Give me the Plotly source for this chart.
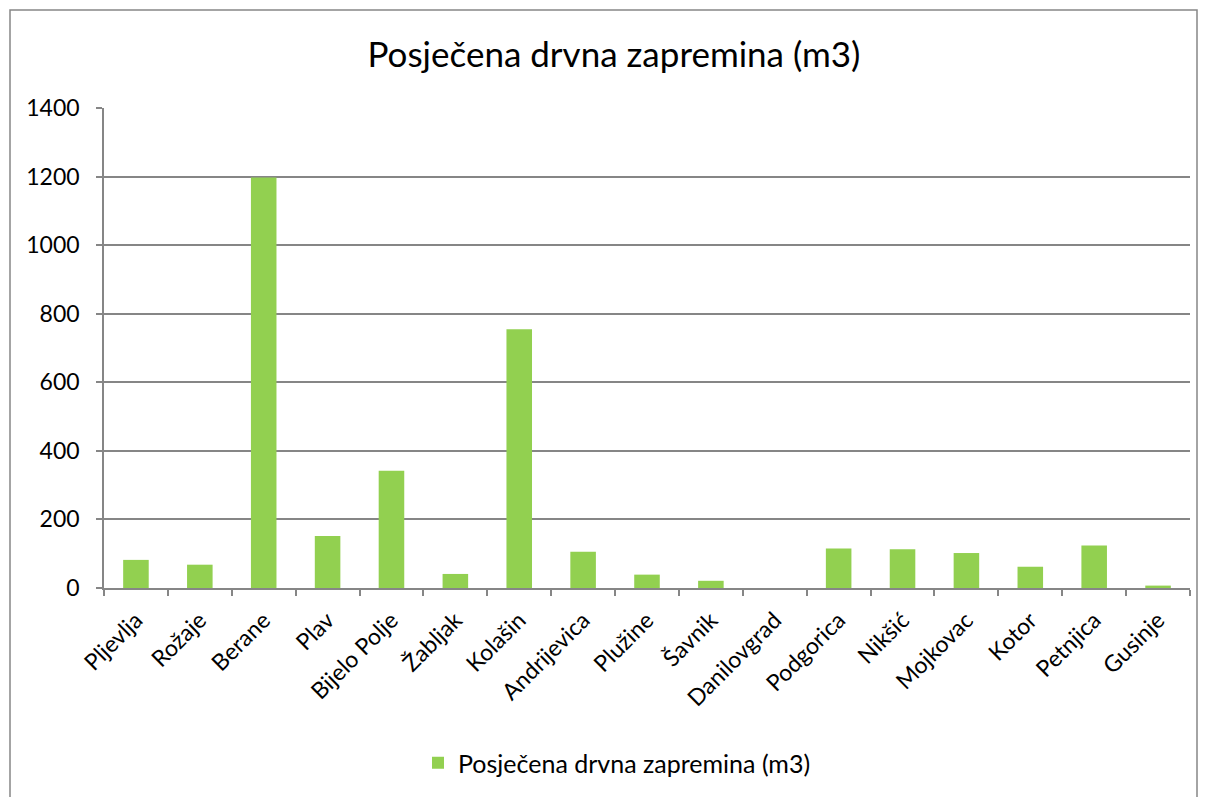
import plotly.graph_objects as go

categories = ["Pljevlja", "Rožaje", "Berane", "Plav", "Bijelo Polje", "Žabljak", "Kolašin",
              "Andrijevica", "Plužine", "Šavnik", "Danilovgrad", "Podgorica", "Nikšić",
              "Mojkovac", "Kotor", "Petnjica", "Gusinje"]
values = [82, 68, 1197, 152, 342, 41, 755, 106, 39, 21, 0, 115, 113, 102, 62, 124, 7]
series_name = "Posječena drvna zapremina (m3)"
y_ticks = [0, 200, 400, 600, 800, 1000, 1200, 1400]

W, H = 1207, 797
ml, mr, mt, mb = 104, 17, 108, 209
pw, ph = W - ml - mr, H - mt - mb

def px_x(x):
    return (x - ml) / pw

def px_y(y):
    return (H - mb - y) / ph

font_family = "Lato, 'Open Sans', sans-serif"

fig = go.Figure()
fig.add_trace(go.Bar(
    x=categories, y=values, name=series_name,
    marker=dict(color="#92D050", line=dict(width=0)),
    showlegend=True,
))

fig.update_layout(
    width=W, height=H,
    margin=dict(l=ml, r=mr, t=mt, b=mb, autoexpand=False),
    paper_bgcolor="white", plot_bgcolor="white",
    font=dict(family=font_family, color="black"),
    title=dict(text=series_name, x=614 / W, xanchor="center", y=1 - 55 / H, yanchor="middle",
               font=dict(size=35, family=font_family, color="black")),
    bargap=0.6,
    legend=dict(orientation="h", x=px_x(617), xanchor="center",
                y=px_y(763), yanchor="middle",
                font=dict(size=25, family=font_family), bgcolor="rgba(0,0,0,0)"),
    shapes=[dict(type="rect", xref="paper", yref="paper",
                 x0=px_x(10), x1=px_x(1197), y0=px_y(805), y1=px_y(10),
                 line=dict(color="#868686", width=1.5), fillcolor="rgba(0,0,0,0)", layer="below")],
)

fig.update_xaxes(
    type="category", tickangle=-45, tickfont=dict(size=23, family=font_family),
    showline=True, linecolor="#868686", linewidth=1.5, automargin=False,
    ticks="outside", tickson="boundaries", ticklen=6, tickcolor="#868686", tickwidth=1.5,
    ticklabelstandoff=8, showgrid=False,
)
fig.update_yaxes(
    range=[0, 1400], tickvals=y_ticks, tickfont=dict(size=23, family=font_family),
    showline=True, linecolor="#868686", linewidth=1.5, automargin=False,
    ticks="outside", ticklen=6, tickcolor="#868686", tickwidth=1.5,
    ticklabelstandoff=12,
    showgrid=True, gridcolor="#868686", gridwidth=1.5, zeroline=False,
)

fig.write_html("out.html", config={"displayModeBar": False},
               post_script="document.body.style.margin='0';document.body.style.padding='0';")
